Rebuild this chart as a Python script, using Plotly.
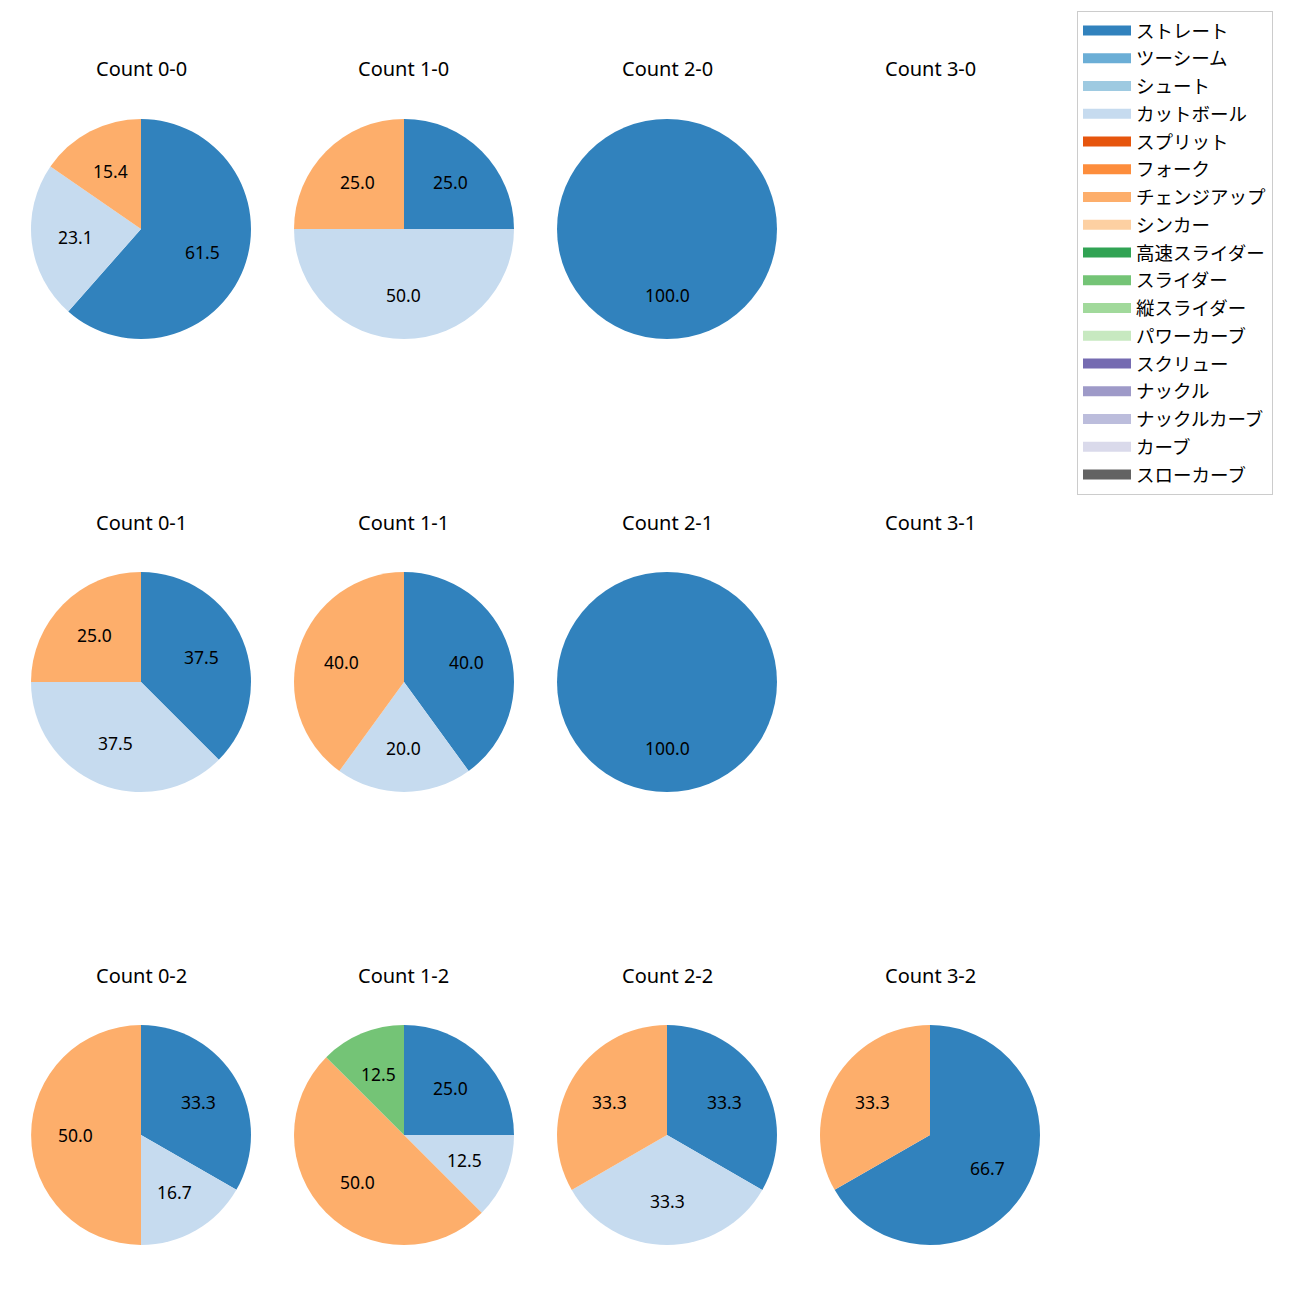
import math
import plotly.graph_objects as go

W = H = 1300

pitch_types = ["ストレート", "ツーシーム", "シュート", "カットボール", "スプリット", "フォーク",
               "チェンジアップ", "シンカー", "高速スライダー", "スライダー", "縦スライダー",
               "パワーカーブ", "スクリュー", "ナックル", "ナックルカーブ", "カーブ", "スローカーブ"]
pitch_colors = ["#3182bd", "#6baed6", "#9ecae1", "#c6dbef", "#e6550d", "#fd8d3c",
                "#fdae6b", "#fdd0a2", "#31a354", "#74c476", "#a1d99b", "#c7e9c0",
                "#756bb1", "#9e9ac8", "#bcbddc", "#dadaeb", "#636363"]

# columns = balls, rows = strikes
count_labels = [["0-0", "1-0", "2-0", "3-0"],
                ["0-1", "1-1", "2-1", "3-1"],
                ["0-2", "1-2", "2-2", "3-2"]]

count_0_0 = {"ストレート": 61.5, "カットボール": 23.1, "チェンジアップ": 15.4}
count_1_0 = {"ストレート": 25.0, "カットボール": 50.0, "チェンジアップ": 25.0}
count_2_0 = {"ストレート": 100.0}
count_3_0 = {}
count_0_1 = {"ストレート": 37.5, "カットボール": 37.5, "チェンジアップ": 25.0}
count_1_1 = {"ストレート": 40.0, "カットボール": 20.0, "チェンジアップ": 40.0}
count_2_1 = {"ストレート": 100.0}
count_3_1 = {}
count_0_2 = {"ストレート": 33.3, "カットボール": 16.7, "チェンジアップ": 50.0}
count_1_2 = {"ストレート": 25.0, "カットボール": 12.5, "チェンジアップ": 50.0, "スライダー": 12.5}
count_2_2 = {"ストレート": 33.3, "カットボール": 33.3, "チェンジアップ": 33.3}
count_3_2 = {"ストレート": 66.7, "チェンジアップ": 33.3}

count_data = {"0-0": count_0_0, "1-0": count_1_0, "2-0": count_2_0, "3-0": count_3_0,
              "0-1": count_0_1, "1-1": count_1_1, "2-1": count_2_1, "3-1": count_3_1,
              "0-2": count_0_2, "1-2": count_1_2, "2-2": count_2_2, "3-2": count_3_2}

FONT_LATIN = "Noto Sans, Noto Sans CJK JP"
FONT_JP = "Noto Sans CJK JP"
col_cx = [141, 404, 667, 930]
row_cy = [229, 682, 1135]
R = 110
title_dy = 160

fig = go.Figure()
annotations = []
color_map = dict(zip(pitch_types, pitch_colors))

for r, row in enumerate(count_labels):
    for c, lab in enumerate(row):
        cx, cy = col_cx[c], row_cy[r]
        annotations.append(dict(text=f"Count {lab}", x=cx / W, y=1 - (cy - title_dy) / H,
                                xref="paper", yref="paper", showarrow=False,
                                font=dict(family=FONT_LATIN, size=20, color="black"),
                                xanchor="center", yanchor="middle"))
        d = count_data[lab]
        labels = [p for p in pitch_types if d.get(p, 0) > 0]
        values = [d[p] for p in labels]
        if not labels:
            continue
        fig.add_trace(go.Pie(
            labels=labels, values=values, sort=False, direction="clockwise", rotation=0,
            marker=dict(colors=[color_map[p] for p in labels], line=dict(width=0)),
            textinfo="none", hoverinfo="label+value", showlegend=False,
            domain=dict(x=[(cx - R) / W, (cx + R) / W], y=[1 - (cy + R) / H, 1 - (cy - R) / H]),
        ))
        total = sum(values)
        cum = 0.0
        for p, v in zip(labels, values):
            mid = (cum + v / 2) / total
            cum += v
            th = math.radians(90 - 360 * mid)
            px = cx + 0.6 * R * math.cos(th)
            py = cy - 0.6 * R * math.sin(th)
            annotations.append(dict(text=f"{v:.1f}", x=px / W, y=1 - py / H,
                                    xref="paper", yref="paper", showarrow=False,
                                    font=dict(family=FONT_LATIN, size=17.5, color="black"),
                                    xanchor="center", yanchor="middle"))

# legend entries
for i, (p, col) in enumerate(zip(pitch_types, pitch_colors)):
    fig.add_trace(go.Scatter(x=[None], y=[None], mode="lines", name=p,
                             line=dict(color=col, width=14), legendgroup=f"g{i}",
                             showlegend=True, hoverinfo="skip"))

fig.update_layout(
    width=W, height=H, margin=dict(l=0, r=0, t=0, b=0),
    paper_bgcolor="white", plot_bgcolor="white",
    xaxis=dict(visible=False, domain=[0.0, 0.001]),
    yaxis=dict(visible=False, domain=[0.0, 0.001]),
    annotations=annotations,
    legend=dict(x=1077 / W, y=1 - 11 / H, xanchor="left", yanchor="top",
                bordercolor="#cccccc", borderwidth=1, bgcolor="white",
                font=dict(family=FONT_JP, size=18.5, color="black"),
                tracegroupgap=0.7, itemwidth=48),
)

fig.write_html("out.html")
